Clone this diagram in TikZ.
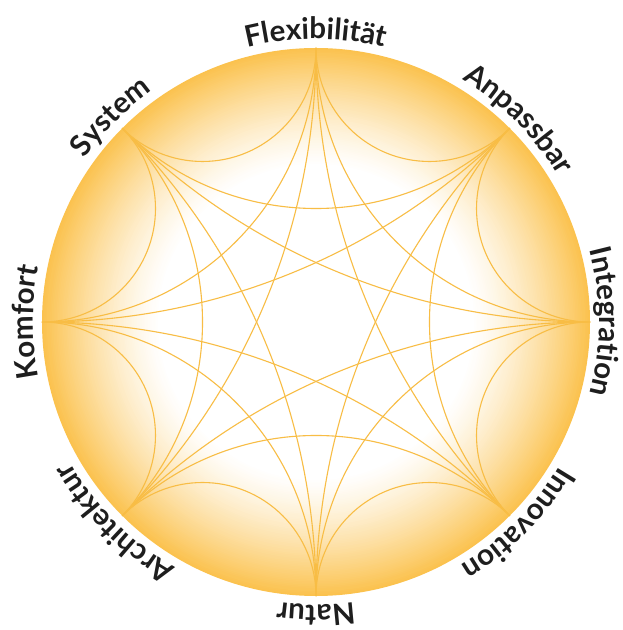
\documentclass[tikz,border=0pt]{standalone}
\usepackage{fontspec}
\setmainfont{Lato}
\usetikzlibrary{decorations.text}
\definecolor{glowc}{HTML}{FBC24E}
\definecolor{linec}{HTML}{F8BD45}
\definecolor{txt}{HTML}{1E1E1E}
\newcommand\lblfont{\fontsize{29.5}{29.5}\selectfont\bfseries}
\begin{document}
\begin{tikzpicture}[x=1pt,y=1pt,
  ln/.style={draw=linec, line width=1.1pt},
  lbl/.style={decorate, decoration={text along path, text align=center, text color=txt, text={|\lblfont|#1}}}]
\useasboundingbox (0,0) rectangle (623,630);
\begin{scope}[shift={(316,308)}]
  % radial glow, drawn as fine concentric rings
  \foreach \j in {0,...,74} {
    \pgfmathsetmacro\rr{274-\j*119/74}
    \pgfmathsetmacro\tt{(\rr-155)/119}
    \pgfmathtruncatemacro\pp{100*(\tt)^1.3}
    \fill[glowc!\pp!white] (0,0) circle (\rr);
  }
  \foreach \i in {0,...,7} \coordinate (p\i) at ({45*\i}:274);
  \foreach \i in {0,...,7} {
    \foreach \k in {1,2,3} {
      \draw[ln] (p\i) arc[start angle={45*\i+270}, end angle={45*\i+90+45*\k}, radius={274*tan(22.5*\k)}];
    }
  }
  \path[lbl=Flexibilität] (140:283) arc[start angle=140, end angle=40, radius=283];
  \path[lbl=Anpassbar] (95:283) arc[start angle=95, end angle=-5, radius=283];
  \path[lbl=Integration] (50:283) arc[start angle=50, end angle=-50, radius=283];
  \path[lbl=Innovation] (5:283) arc[start angle=5, end angle=-95, radius=283];
  \path[lbl=Natur] (-40:283) arc[start angle=-40, end angle=-140, radius=283];
  \path[lbl=Architektur] (-85:283) arc[start angle=-85, end angle=-185, radius=283];
  \path[lbl=Komfort] (230:283) arc[start angle=230, end angle=130, radius=283];
  \path[lbl=System] (185:283) arc[start angle=185, end angle=85, radius=283];
\end{scope}
\end{tikzpicture}
\end{document}
